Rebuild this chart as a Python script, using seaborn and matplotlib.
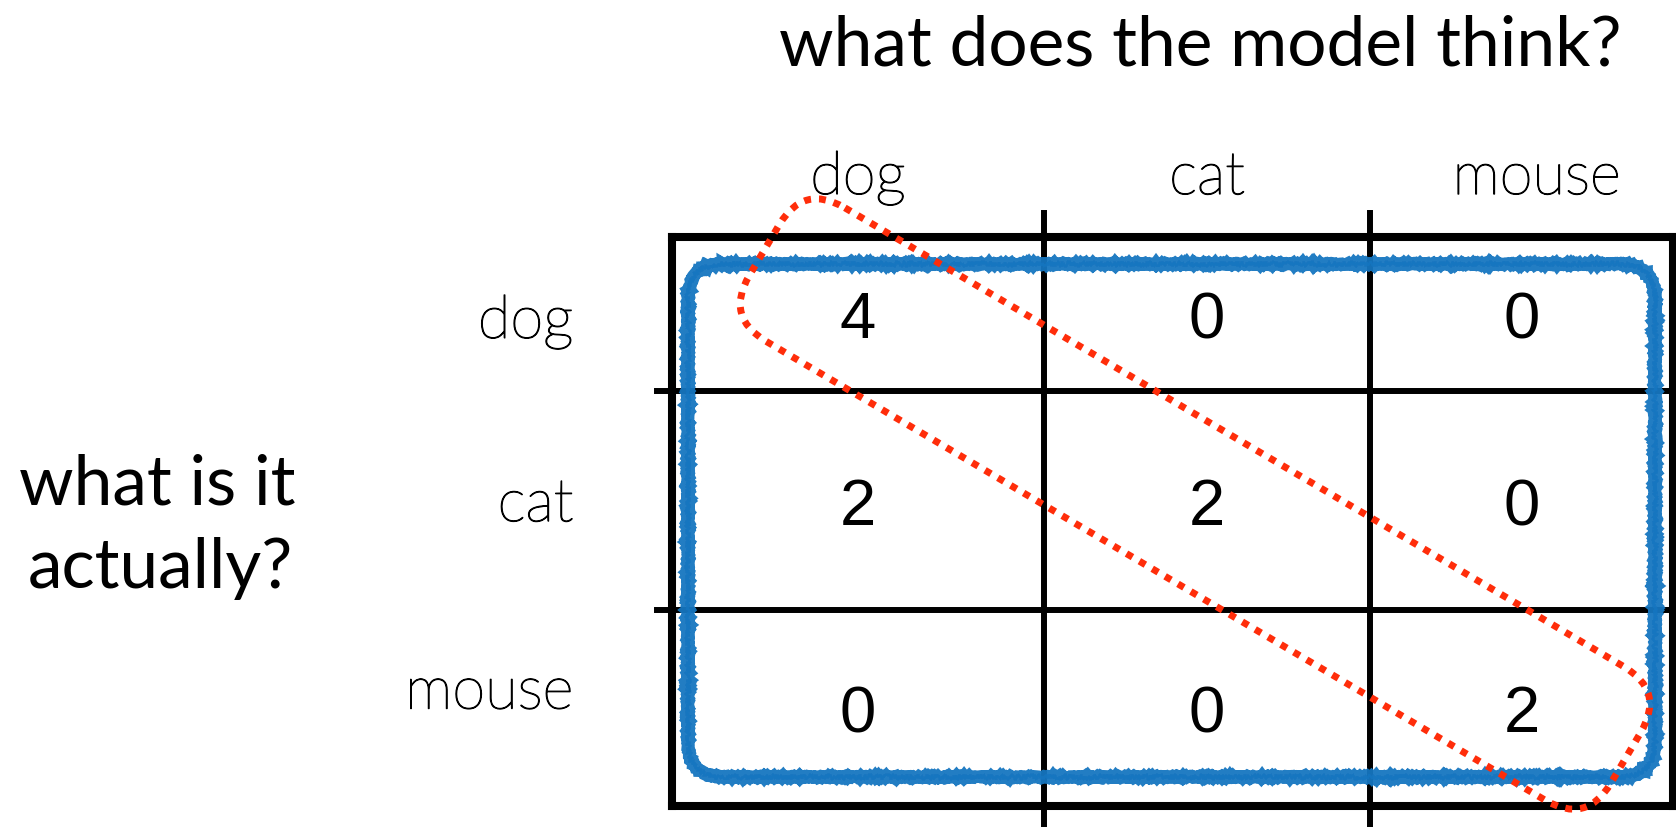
import numpy as np
import pandas as pd
import matplotlib
matplotlib.use("Agg")
import matplotlib.pyplot as plt
import matplotlib.patheffects as pe
import seaborn as sns
from matplotlib.colors import ListedColormap
from matplotlib.patches import FancyBboxPatch
from matplotlib.transforms import Affine2D

# ---- data ----
predicted = ["dog", "cat", "mouse"]
actual = ["dog", "cat", "mouse"]
counts_dog = [4, 0, 0]
counts_cat = [2, 2, 0]
counts_mouse = [0, 0, 2]
title_text = "what does the model think?"
ylabel_lines = ["what is it", "actually?"]

df = pd.DataFrame([counts_dog, counts_cat, counts_mouse], index=actual, columns=predicted)

W, H = 1676, 828
fig = plt.figure(figsize=(W / 100, H / 100), dpi=100)

# table axes (pixel layout)
L, R, T, B = 672, 1673, 238, 807
ax = fig.add_axes([L / W, 1 - B / H, (R - L) / W, (B - T) / H])

sns.heatmap(df, ax=ax, cmap=ListedColormap(["white"]), cbar=False, annot=True, fmt="d",
            linewidths=0,
            annot_kws=dict(fontsize=47, family="Liberation Sans", color="black",
                           va="center_baseline"))

# non-uniform cell sizes via function scales
col_edges = [0, 372, 698, 1001]
row_edges = [0, 154, 373, 569]


def make_scale(edges):
    xs = [-100, 0, 1, 2, 3, 103]
    ys = [-100 * edges[1], edges[0], edges[1], edges[2], edges[3],
          edges[3] + 100 * (edges[3] - edges[2])]
    fwd = lambda v: np.interp(v, xs, ys)
    inv = lambda v: np.interp(v, ys, xs)
    return fwd, inv


ax.set_xscale("function", functions=make_scale(col_edges))
ax.set_yscale("function", functions=make_scale(row_edges))
ax.set_xlim(0, 3)
ax.set_ylim(3, 0)

thicken = [pe.withStroke(linewidth=0.9, foreground="black")]
lab_font = dict(family="Lato", fontweight="light", fontsize=43, path_effects=thicken)
ax.xaxis.tick_top()
ax.set_xticks([0.5, 1.5, 2.55])
ax.set_xticklabels(predicted, **lab_font)
ax.set_yticks([0.55, 1.52, 2.42])
ax.set_yticklabels(actual, rotation=0, **lab_font)
ax.tick_params(axis="x", length=0, pad=23)
ax.tick_params(axis="y", length=0, pad=71)
ax.set_xlabel("")
ax.set_ylabel("")

for s in ax.spines.values():
    s.set_visible(True)
    s.set_linewidth(5.8)
    s.set_color("black")
    s.set_capstyle("projecting")

for x in [1, 2]:
    ax.axvline(x, ymin=(B - H) / (B - T), ymax=(B - 214) / (B - T), color="black",
               lw=4.3, clip_on=False)
for y in [1, 2]:
    ax.axhline(y, xmin=(657 - L) / (R - L), xmax=(W + 5 - L) / (R - L), color="black",
               lw=4.3, clip_on=False)

# overlay axes in pixel coordinates for annotations
ov = fig.add_axes([0, 0, 1, 1], facecolor="none")
ov.set_xlim(0, W)
ov.set_ylim(H, 0)
ov.axis("off")

ov.text(1200, 66, title_text, ha="center", va="baseline", fontsize=50, family="Lato")
ov.text(157, 505, ylabel_lines[0], ha="center", va="baseline", fontsize=50, family="Lato")
ov.text(160, 588, ylabel_lines[1], ha="center", va="baseline", fontsize=50, family="Lato")

# blue rough rounded rectangle
bx0, by0, bx1, by1 = 688, 265, 1655, 778
blue = "#1676c0"
box_style = "round,pad=0,rounding_size=35"
main = FancyBboxPatch((bx0, by0), bx1 - bx0, by1 - by0, boxstyle=box_style,
                      fill=False, ec=blue, lw=9.0, alpha=0.95)
main.set_sketch_params(scale=0.7, length=2, randomness=3)
ov.add_patch(main)
for k in range(6):
    p = FancyBboxPatch((bx0, by0), bx1 - bx0, by1 - by0, boxstyle=box_style,
                       fill=False, ec=blue, lw=1.4, alpha=0.35)
    p.set_sketch_params(scale=2.2, length=1.5, randomness=3)
    ov.add_patch(p)

# red dotted rotated rounded rectangle
rw, rh = 1000, 155
red = FancyBboxPatch((-rw / 2, -rh / 2), rw, rh,
                     boxstyle="round,pad=0,rounding_size=48",
                     fill=False, ec="#ff2d0a", lw=5.0, linestyle=(0, (1.0, 1.15)))
red.set_transform(Affine2D().rotate_deg(30.5).translate(1195, 505) + ov.transData)
ov.add_patch(red)

fig.savefig("out.png", dpi=100)
